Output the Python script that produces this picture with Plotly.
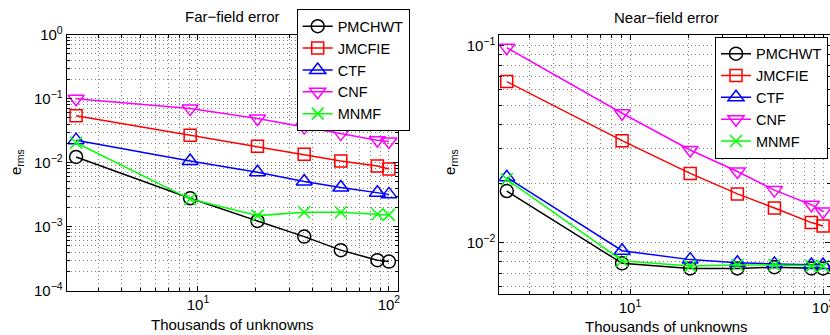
import plotly.graph_objects as go

# ---------------- data ----------------
unknowns = [2.3, 9.1, 20.5, 36, 56, 87, 100]  # thousands of unknowns
series_names = ["PMCHWT", "JMCFIE", "CTF", "CNF", "MNMF"]

far_pmchwt = [0.0123, 0.00278, 0.00123, 0.00070, 0.00043, 0.00030, 0.000285]
far_jmcfie = [0.0540, 0.0268, 0.0180, 0.0136, 0.0106, 0.0089, 0.0080]
far_ctf    = [0.0225, 0.0106, 0.0071, 0.0051, 0.0041, 0.0034, 0.0032]
far_cnf    = [0.100, 0.0700, 0.0490, 0.0360, 0.0285, 0.0225, 0.0215]
far_mnmf   = [0.0205, 0.0027, 0.00149, 0.00168, 0.00168, 0.00156, 0.00153]

near_pmchwt = [0.0183, 0.00785, 0.0074, 0.0074, 0.0075, 0.0074, 0.0074]
near_jmcfie = [0.0659, 0.0330, 0.0225, 0.0177, 0.0150, 0.01265, 0.01216]
near_ctf    = [0.0215, 0.0091, 0.0082, 0.0079, 0.0078, 0.0077, 0.0077]
near_cnf    = [0.0980, 0.0455, 0.0296, 0.0230, 0.0185, 0.0156, 0.0144]
near_mnmf   = [0.0210, 0.0081, 0.0076, 0.0077, 0.0077, 0.0076, 0.0076]

far_ytick_vals = [1e-4, 1e-3, 1e-2, 1e-1, 1e0]
far_ytick_text = ["10<sup>−4</sup>", "10<sup>−3</sup>", "10<sup>−2</sup>", "10<sup>−1</sup>", "10<sup>0</sup>"]
near_ytick_vals = [1e-2, 1e-1]
near_ytick_text = ["10<sup>−2</sup>", "10<sup>−1</sup>"]
xtick_vals = [10, 100]
xtick_text = ["10<sup>1</sup>", "10<sup>2</sup>"]

# ---------------- styles ----------------
colors = ["#000000", "#ff0000", "#0000ff", "#ff00ff", "#00ff00"]
symbols = ["circle-open", "square-open", "triangle-up-open", "triangle-down-open", "x-thin-open"]
msizes = [13, 12, 14, 14, 12]
FONT = "Liberation Sans, Arial, sans-serif"
W, H = 830, 335

fig = go.Figure()

far_sets = [far_pmchwt, far_jmcfie, far_ctf, far_cnf, far_mnmf]
near_sets = [near_pmchwt, near_jmcfie, near_ctf, near_cnf, near_mnmf]

for i, name in enumerate(series_names):
    fig.add_trace(go.Scatter(
        x=unknowns, y=far_sets[i], name=name, mode="lines+markers",
        xaxis="x", yaxis="y", legend="legend",
        line=dict(color=colors[i], width=1.5),
        marker=dict(symbol=symbols[i], size=msizes[i], color=colors[i],
                    line=dict(color=colors[i], width=1.5)),
    ))
for i, name in enumerate(series_names):
    fig.add_trace(go.Scatter(
        x=unknowns, y=near_sets[i], name=name, mode="lines+markers",
        xaxis="x2", yaxis="y2", legend="legend2",
        line=dict(color=colors[i], width=1.5),
        marker=dict(symbol=symbols[i], size=msizes[i], color=colors[i],
                    line=dict(color=colors[i], width=1.5)),
    ))

def minor_vals(e0, e1):
    return [m * 10.0 ** e for e in range(e0, e1) for m in range(2, 10)]

grid = dict(showgrid=True, gridcolor="#808080", griddash="1px,3px", gridwidth=1)
common = dict(type="log", showline=True, linecolor="black", linewidth=1,
              mirror="allticks", ticks="inside", ticklen=5, tickcolor="black",
              tickfont=dict(family=FONT, size=15, color="black"),
              tickmode="array", automargin=False, ticklabeloverflow="allow", **grid)
minor_common = dict(ticks="inside", ticklen=3, tickcolor="black", **grid)

legend_common = dict(xanchor="left", yanchor="top",
                     bgcolor="white", bordercolor="black", borderwidth=1,
                     font=dict(family=FONT, size=14.5, color="black"),
                     tracegroupgap=0, itemwidth=30)

fig.update_layout(
    width=W, height=H,
    margin=dict(l=0, r=0, t=0, b=0, autoexpand=False),
    paper_bgcolor="white", plot_bgcolor="white",
    font=dict(family=FONT, size=15, color="black"),
    xaxis=dict(domain=[66.7 / W, 397.7 / W], range=[0.3126, 2.046], anchor="y",
               tickvals=xtick_vals, ticktext=xtick_text,
               minor=dict(tickmode="array", tickvals=minor_vals(0, 3), **minor_common),
               **common),
    yaxis=dict(domain=[1 - 290.7 / H, 1 - 34.7 / H], range=[-4, 0], anchor="x",
               tickvals=far_ytick_vals, ticktext=far_ytick_text,
               minor=dict(tickmode="array", tickvals=minor_vals(-4, 0), **minor_common),
               **common),
    xaxis2=dict(domain=[499.3 / W, 1.0], range=[0.323, 2.036], anchor="y2",
                tickvals=xtick_vals, ticktext=xtick_text,
                minor=dict(tickmode="array", tickvals=minor_vals(0, 3), **minor_common),
                **common),
    yaxis2=dict(domain=[1 - 294.0 / H, 1 - 34.7 / H], range=[-2.261, -0.9426], anchor="x2",
                tickvals=near_ytick_vals, ticktext=near_ytick_text,
                minor=dict(tickmode="array", tickvals=minor_vals(-3, 0), **minor_common),
                **common),
    legend=dict(x=296.7 / W, y=1 - 9.3 / H, **legend_common),
    legend2=dict(x=715 / W, y=1 - 36.7 / H, **legend_common),
    showlegend=True,
)

ann = []
def add_text(text, px, py, angle=0):
    ann.append(dict(text=text, x=px / W, y=1 - py / H, xref="paper", yref="paper",
                    showarrow=False, xanchor="center", yanchor="middle", textangle=angle,
                    font=dict(family=FONT, size=15, color="black")))

add_text("Far−field error", 232, 17)
add_text("Near−field error", 666, 17.5)
add_text("Thousands of unknowns", 232, 324)
add_text("Thousands of unknowns", 666, 326)
add_text("e<sub>rms</sub>", 16, 162, -90)
add_text("e<sub>rms</sub>", 450, 162, -90)
fig.update_layout(annotations=ann)

fig.write_html("out.html")
